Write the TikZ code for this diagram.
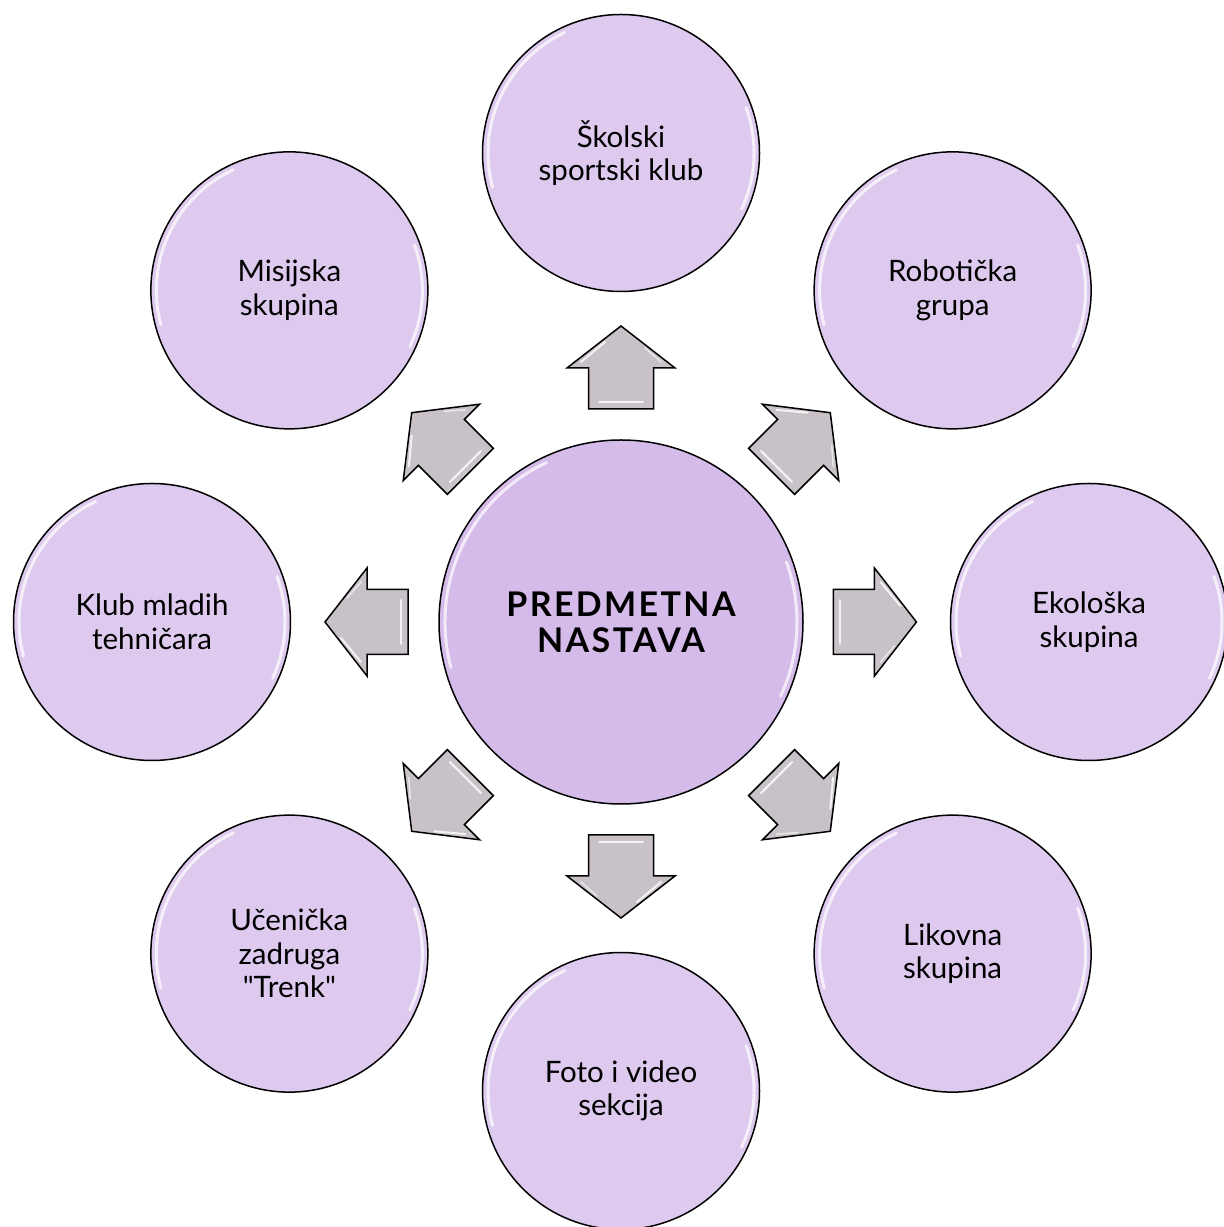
\documentclass[tikz,border=0pt]{standalone}
\usepackage{fontspec}
\setmainfont{Lato}
\newfontfamily\rawlato{Lato}
\usetikzlibrary{calc}
\definecolor{hubfill}{RGB}{213,187,233}
\definecolor{leaffill}{RGB}{221,202,238}
\definecolor{arrowfill}{RGB}{201,193,200}
\tikzset{
  hub/.style={circle,draw=black,line width=1.5pt,fill=hubfill,minimum size=364pt,inner sep=0pt,align=center,font=\fontsize{34}{36}\selectfont\bfseries\addfontfeatures{LetterSpace=7}},
  leaf/.style={circle,draw=black,line width=1.5pt,fill=leaffill,minimum size=277pt,inner sep=0pt,align=center,font=\fontsize{29.5}{33.5}\selectfont},
  gloss/.style={white,line width=3pt,opacity=0.7,line cap=round},
  arrowbody/.style={draw=black,line width=1.5pt,fill=arrowfill,line join=miter},
  barrow/.pic={
    \draw[arrowbody] (-41,-32.5) -- (0,-32.5) -- (0,-54) -- (42,0) -- (0,54) -- (0,32.5) -- (-41,32.5) -- cycle;
    \draw[white,line width=2pt,opacity=0.8,line cap=round] (-34,-22) -- (-34,22);
    \draw[white,line width=2pt,opacity=0.8,line cap=round] (6,40) -- (26,16);
    \draw[white,line width=1.5pt,opacity=0.6,line cap=round] (6,-40) -- (20,-24);
  }
}
\begin{document}
\begin{tikzpicture}[x=1pt,y=1pt]
\useasboundingbox (0,0) rectangle (1224,1227);
\coordinate (o) at (621,605);
\node[hub] (c) at (o) {PREDMETNA\\NASTAVA};
\node[leaf] (n1) at ($(o)+(90:469)$) {Školski\\sportski klub};
\node[leaf] (n2) at ($(o)+(45:469)$) {Robotička\\grupa};
\node[leaf] (n3) at ($(o)+(0:468)$) {Ekološka\\skupina};
\node[leaf] (n4) at ($(o)+(-45:469)$) {Likovna\\skupina};
\node[leaf] (n5) at ($(o)+(-90:469)$) {Foto i video\\sekcija};
\node[leaf] (n6) at ($(o)+(-135:469)$) {Učenička\\zadruga\\{\rawlato"}Trenk{\rawlato"}};
\node[leaf] (n7) at ($(o)+(180:469)$) {Klub mladih\\tehničara};
\node[leaf] (n8) at ($(o)+(135:469)$) {Misijska\\skupina};
% gloss highlights on circles
\draw[gloss] ([shift={(115:176)}]c.center) arc[start angle=115,end angle=195,radius=176];
\draw[gloss] ([shift={(-25:176)}]c.center) arc[start angle=-25,end angle=20,radius=176];
\foreach \n in {n1,n2,n3,n4,n5,n6,n7,n8}{
  \draw[gloss] ([shift={(115:133)}]\n.center) arc[start angle=115,end angle=195,radius=133];
  \draw[gloss] ([shift={(-25:133)}]\n.center) arc[start angle=-25,end angle=20,radius=133];
}
% block arrows
\foreach \a/\n in {90/n1,45/n2,0/n3,-45/n4,-90/n5,-135/n6,180/n7,135/n8}{
  \pic[rotate=\a] at ($(c.center)!254/469!(\n.center)$) {barrow};
}
\end{tikzpicture}
\end{document}
